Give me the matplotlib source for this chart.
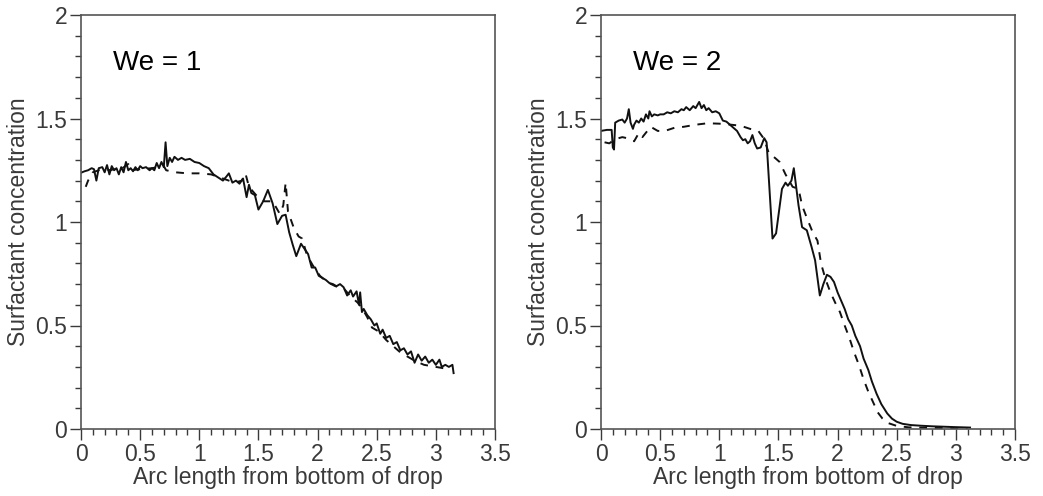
import numpy as np
import matplotlib
matplotlib.use("Agg")
import matplotlib.pyplot as plt
from matplotlib.ticker import MultipleLocator

plt.rcParams['font.family'] = ['Liberation Sans', 'DejaVu Sans']

# We = 1, solid curve
we1_solid_x = [0.00, 0.03, 0.06, 0.09, 0.11, 0.13, 0.15, 0.18, 0.20, 0.22, 0.24, 0.26, 0.28, 0.30,
               0.32, 0.34, 0.36, 0.38, 0.40, 0.42, 0.44, 0.46, 0.48, 0.50, 0.52, 0.55, 0.58, 0.60,
               0.62, 0.64, 0.66, 0.68, 0.70, 0.715, 0.73, 0.75, 0.77, 0.79, 0.82, 0.85, 0.88, 0.92,
               0.96, 1.00, 1.04, 1.08, 1.12, 1.16, 1.20, 1.23, 1.25, 1.28, 1.31, 1.34, 1.37, 1.40,
               1.42, 1.44, 1.47, 1.50, 1.54, 1.58, 1.62, 1.66, 1.70, 1.73, 1.76, 1.79, 1.82, 1.86,
               1.89, 1.92, 1.95, 1.98, 2.01, 2.04, 2.07, 2.10, 2.13, 2.16, 2.19, 2.22, 2.25, 2.28,
               2.30, 2.33, 2.35, 2.36, 2.375, 2.39, 2.42, 2.45, 2.48, 2.50, 2.53, 2.55, 2.58, 2.61,
               2.64, 2.67, 2.70, 2.73, 2.76, 2.79, 2.82, 2.85, 2.88, 2.91, 2.94, 2.97, 3.00, 3.03,
               3.05, 3.08, 3.11, 3.14, 3.15]
we1_solid_y = [1.238, 1.245, 1.25, 1.26, 1.255, 1.20, 1.26, 1.265, 1.24, 1.275, 1.23, 1.27, 1.25, 1.26,
               1.23, 1.265, 1.24, 1.29, 1.25, 1.26, 1.245, 1.265, 1.25, 1.27, 1.26, 1.265, 1.25, 1.26,
               1.25, 1.285, 1.26, 1.29, 1.265, 1.385, 1.27, 1.31, 1.29, 1.315, 1.30, 1.31, 1.30, 1.305,
               1.29, 1.285, 1.27, 1.26, 1.23, 1.215, 1.20, 1.22, 1.235, 1.19, 1.20, 1.185, 1.21, 1.12,
               1.18, 1.14, 1.13, 1.06, 1.10, 1.155, 1.09, 0.99, 1.03, 1.035, 0.95, 0.89, 0.835, 0.895,
               0.87, 0.845, 0.78, 0.78, 0.74, 0.73, 0.72, 0.705, 0.70, 0.69, 0.70, 0.685, 0.645, 0.67,
               0.64, 0.665, 0.60, 0.66, 0.565, 0.58, 0.55, 0.53, 0.50, 0.51, 0.46, 0.48, 0.44, 0.45,
               0.41, 0.42, 0.38, 0.39, 0.36, 0.375, 0.32, 0.36, 0.33, 0.35, 0.32, 0.335, 0.31, 0.335,
               0.30, 0.31, 0.30, 0.31, 0.27]

# We = 1, dashed curve
we1_dash_x = [0.04, 0.06, 0.10, 0.15, 0.20, 0.25, 0.30, 0.35, 0.40, 0.42, 0.50, 0.60, 0.70, 0.72,
              0.80, 0.90, 1.00, 1.10, 1.20, 1.30, 1.36, 1.39, 1.42, 1.48, 1.55, 1.62, 1.68, 1.71,
              1.73, 1.75, 1.80, 1.84, 1.87, 1.91, 1.96, 2.02, 2.08, 2.15, 2.22, 2.28, 2.34, 2.38,
              2.42, 2.46, 2.52, 2.58, 2.64, 2.70, 2.76, 2.82, 2.90, 3.00, 3.10]
we1_dash_y = [1.17, 1.20, 1.24, 1.25, 1.255, 1.25, 1.26, 1.26, 1.28, 1.25, 1.255, 1.26, 1.27, 1.25,
              1.24, 1.235, 1.235, 1.23, 1.21, 1.19, 1.20, 1.235, 1.17, 1.13, 1.10, 1.10, 1.04, 1.08,
              1.19, 1.05, 0.97, 0.93, 0.92, 0.84, 0.79, 0.74, 0.71, 0.69, 0.68, 0.64, 0.61, 0.58,
              0.54, 0.49, 0.47, 0.43, 0.40, 0.37, 0.35, 0.33, 0.31, 0.30, 0.29]

# We = 2, solid curve
we2_solid_x = [0.00, 0.05, 0.09, 0.10, 0.11, 0.12, 0.15, 0.18, 0.20, 0.22, 0.235, 0.25, 0.27, 0.28,
               0.30, 0.32, 0.34, 0.36, 0.38, 0.40, 0.41, 0.43, 0.45, 0.48, 0.50, 0.53, 0.56, 0.59,
               0.62, 0.65, 0.68, 0.70, 0.72, 0.75, 0.78, 0.80, 0.83, 0.85, 0.87, 0.89, 0.91, 0.94,
               0.97, 1.00, 1.03, 1.06, 1.09, 1.12, 1.15, 1.18, 1.20, 1.22, 1.24, 1.26, 1.28, 1.30,
               1.32, 1.35, 1.38, 1.40, 1.45, 1.48, 1.53, 1.56, 1.58, 1.61, 1.63, 1.67, 1.70, 1.74,
               1.78, 1.81, 1.85, 1.88, 1.91, 1.94, 1.97, 2.00, 2.03, 2.06, 2.09, 2.12, 2.15, 2.19,
               2.22, 2.26, 2.29, 2.33, 2.37, 2.42, 2.46, 2.50, 2.55, 2.62, 2.70, 2.80, 2.90, 3.00,
               3.12]
we2_solid_y = [1.44, 1.445, 1.445, 1.36, 1.35, 1.48, 1.49, 1.495, 1.48, 1.50, 1.545, 1.48, 1.45, 1.47,
               1.49, 1.48, 1.50, 1.485, 1.52, 1.50, 1.535, 1.51, 1.52, 1.515, 1.52, 1.52, 1.53, 1.525,
               1.535, 1.53, 1.545, 1.54, 1.555, 1.54, 1.56, 1.55, 1.58, 1.55, 1.565, 1.54, 1.55, 1.53,
               1.535, 1.525, 1.49, 1.485, 1.47, 1.455, 1.44, 1.41, 1.395, 1.40, 1.38, 1.39, 1.42, 1.38,
               1.355, 1.36, 1.405, 1.385, 0.92, 0.945, 1.16, 1.19, 1.175, 1.20, 1.26, 1.08, 0.975, 0.96,
               0.88, 0.815, 0.645, 0.70, 0.745, 0.735, 0.71, 0.66, 0.62, 0.58, 0.53, 0.50, 0.45, 0.40,
               0.34, 0.285, 0.23, 0.17, 0.12, 0.075, 0.05, 0.035, 0.025, 0.019, 0.016, 0.013, 0.011, 0.009,
               0.007]

# We = 2, dashed curve
we2_dash_x = [0.03, 0.07, 0.12, 0.18, 0.22, 0.28, 0.32, 0.35, 0.42, 0.48, 0.54, 0.62, 0.70, 0.80,
              0.90, 1.00, 1.10, 1.18, 1.26, 1.33, 1.38, 1.42, 1.47, 1.51, 1.56, 1.62, 1.67, 1.70,
              1.74, 1.79, 1.83, 1.86, 1.90, 1.94, 1.98, 2.02, 2.06, 2.10, 2.14, 2.18, 2.22, 2.26,
              2.30, 2.34, 2.38, 2.42, 2.50, 2.60, 2.80, 3.00, 3.10]
we2_dash_y = [1.385, 1.38, 1.40, 1.41, 1.405, 1.39, 1.43, 1.41, 1.46, 1.44, 1.44, 1.455, 1.46, 1.47,
              1.477, 1.475, 1.47, 1.465, 1.45, 1.44, 1.40, 1.33, 1.31, 1.29, 1.23, 1.17, 1.16, 1.08,
              1.02, 0.95, 0.91, 0.80, 0.72, 0.66, 0.61, 0.565, 0.50, 0.44, 0.37, 0.31, 0.24, 0.18,
              0.13, 0.08, 0.05, 0.03, 0.015, 0.008, 0.005, 0.004, 0.003]

panels = [
    ("We = 1", we1_solid_x, we1_solid_y, we1_dash_x, we1_dash_y),
    ("We = 2", we2_solid_x, we2_solid_y, we2_dash_x, we2_dash_y),
]

fig = plt.figure(figsize=(10.43, 4.96), dpi=100)
lefts = [81 / 1043, 601 / 1043]
grey = '#3a3a3a'

for left, (title, sx, sy, dx, dy) in zip(lefts, panels):
    ax = fig.add_axes([left, 67 / 496, 414 / 1043, 414 / 496])
    ax.plot(sx, sy, color='#111111', lw=1.4)
    ax.plot(dx, dy, color='#111111', lw=1.4, dashes=(4, 4))
    ax.set_xlim(0, 3.5)
    ax.set_ylim(0, 2)
    ax.xaxis.set_major_locator(MultipleLocator(0.5))
    ax.xaxis.set_minor_locator(MultipleLocator(0.1))
    ax.yaxis.set_major_locator(MultipleLocator(0.5))
    ax.yaxis.set_minor_locator(MultipleLocator(0.1))
    ax.xaxis.set_major_formatter(plt.FuncFormatter(lambda v, p: f"{v:g}"))
    ax.yaxis.set_major_formatter(plt.FuncFormatter(lambda v, p: f"{v:g}"))
    ax.tick_params(which='both', direction='out', top=False, right=False,
                   color=grey, width=1.0, labelcolor=grey, labelsize=16.5)
    ax.tick_params(which='major', length=8, pad=2)
    ax.tick_params(which='minor', length=4)
    for sp in ax.spines.values():
        sp.set_color('#555555')
        sp.set_linewidth(1.2)
    ax.set_xlabel("Arc length from bottom of drop", fontsize=16.5, color=grey, labelpad=0)
    ax.set_ylabel("Surfactant concentration", fontsize=16.5, color=grey, labelpad=4)
    ax.text(0.078, 0.885, title, transform=ax.transAxes, fontsize=20, color='black',
            ha='left', va='center')

fig.savefig("out.png", dpi=100)
